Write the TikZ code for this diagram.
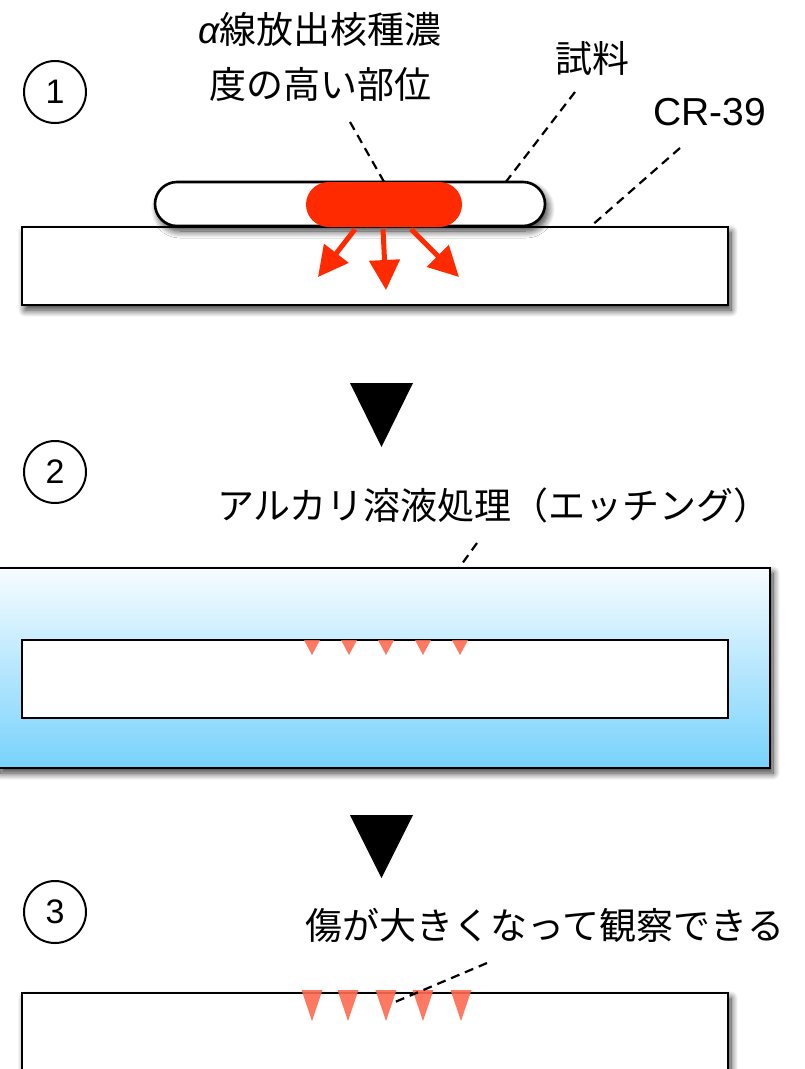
\documentclass[tikz,border=0pt]{standalone}
\usepackage{fontspec}
\setmainfont{Liberation Sans}
\newfontfamily\jp{Noto Sans CJK JP}
\usetikzlibrary{arrows.meta,shadows.blur}
\definecolor{alphared}{HTML}{FF2A00}
\definecolor{pitred}{HTML}{FF6A50}
\definecolor{liqtop}{HTML}{F7FCFF}
\definecolor{liqbot}{HTML}{78D2FC}
\begin{document}
\begin{tikzpicture}[x=1pt,y=-1pt,
  num/.style={circle,draw,line width=2pt,minimum size=62pt,inner sep=0pt,font=\fontsize{34}{34}\selectfont},
  lbl/.style={font=\jp\fontsize{37}{55}\selectfont,align=center,inner sep=0pt},
  enlbl/.style={font=\fontsize{39}{39}\selectfont,inner sep=0pt},
  leader/.style={dash pattern=on 9pt off 6pt,line width=2.2pt},
  shad/.style={blur shadow={shadow xshift=3pt,shadow yshift=-5pt,shadow blur steps=12,shadow blur radius=7pt,shadow opacity=80}},
  slab/.style={draw,line width=2.6pt,fill=white,inner sep=0pt,minimum width=706pt,minimum height=78pt},
  redarrow/.style={draw=alphared,line width=5pt,-{Triangle[width=30pt,length=30pt]}},
  pit/.style={fill=pitred,opacity=0.9},
  bigtri/.style={fill=black}
]
\useasboundingbox (0,0) rectangle (805,1069);

% ---------- step 1 ----------
\node[num] (n1) at (55,92) {1};
\node[lbl] (alab) at (320,57) {{\rmfamily\itshape α}線放出核種濃\\度の高い部位};
\node[lbl] (slab) at (592,58) {試料};
\node[enlbl] (crlab) at (710,112) {CR-39};

\node[slab,shad] (cr1) at (375,266) {};
\node[draw,line width=2.6pt,fill=white,rounded corners=22pt,minimum width=390pt,minimum height=44pt,inner sep=0pt,shad] (sample) at (350,204) {};
\node[fill=alphared,rounded corners=22.5pt,minimum width=156pt,minimum height=45pt,inner sep=0pt] (hot) at (384,204.5) {};

\coordinate (t1) at (318,277);
\coordinate (t2) at (386,290);
\coordinate (t3) at (459,277);
\draw[redarrow] ([xshift=-29pt,yshift=-2pt]hot.south) -- (t1);
\draw[redarrow] ([xshift=-1pt,yshift=-2pt]hot.south) -- (t2);
\draw[redarrow] ([xshift=27pt,yshift=-2pt]hot.south) -- (t3);

\coordinate (a1) at (350,122);
\draw[leader] (a1) -- (hot.north);
\coordinate (s1) at (575,92);
\coordinate (s2) at (505,183);
\draw[leader] (s1) -- (s2);
\coordinate (c1) at (680,148);
\coordinate (c2) at (590,227);
\draw[leader] (c1) -- (c2);

\fill[bigtri] (350,383) -- (413,383) -- (381.5,447) -- cycle;

% ---------- step 2 ----------
\node[num] (n2) at (55,472) {2};
\node[lbl] (etch) at (494,505) {アルカリ溶液処理（エッチング）};
\node[draw,line width=2.6pt,top color=liqtop,bottom color=liqbot,minimum width=772pt,minimum height=200pt,inner sep=0pt,shad] (bath) at (384,668) {};
\node[slab] (cr2) at (375,679) {};
\foreach \x in {312,349,386,423,460}
  \fill[pit] (\x-8,640) -- (\x+8,640) -- (\x,655) -- cycle;
\coordinate (e1) at (477,543);
\coordinate (e2) at (459,568);
\draw[leader] (e1) -- (e2);

\fill[bigtri] (350,815) -- (413,815) -- (381.5,878) -- cycle;

% ---------- step 3 ----------
\node[num] (n3) at (55,912) {3};
\node[lbl] (grow) at (545,925) {傷が大きくなって観察できる};
\node[slab,shad,minimum height=80pt] (cr3) at (375,1033) {};
\foreach \x in {312,348,386,423,461}
  \fill[pit] (\x-10.5,990) -- (\x+10.5,990) -- (\x,1021) -- cycle;
\coordinate (g1) at (487,963);
\coordinate (g2) at (395,1002);
\draw[leader] (g1) -- (g2);
\end{tikzpicture}
\end{document}
